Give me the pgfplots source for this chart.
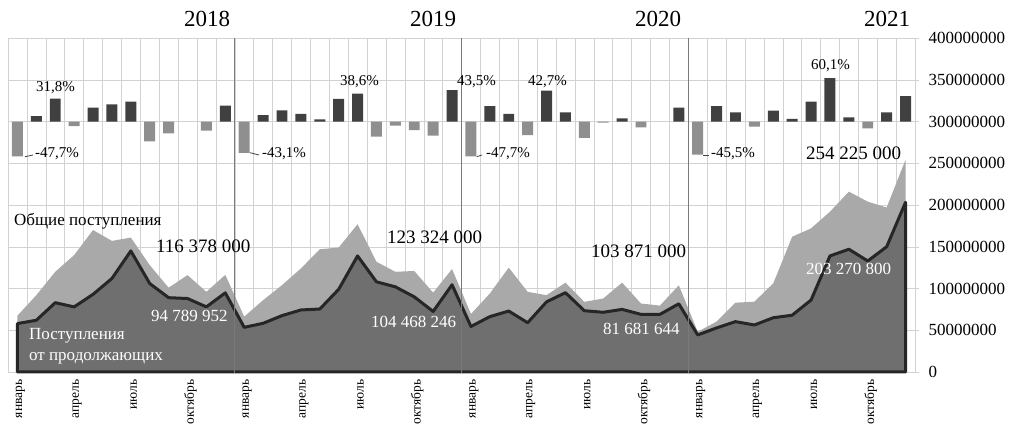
\documentclass[border=0pt]{standalone}
\usepackage{fontspec}
\setmainfont{Liberation Serif}
\usepackage{pgfplots}
\usepackage{pgfplotstable}
\pgfplotsset{compat=1.18}

\definecolor{lightarea}{HTML}{A9A9A9}
\definecolor{darkarea}{HTML}{6F6F6F}
\definecolor{darkline}{HTML}{262626}
\definecolor{posbar}{HTML}{404040}
\definecolor{negbar}{HTML}{8F8F8F}
\definecolor{gridc}{HTML}{D2D2D2}
\definecolor{yearc}{HTML}{7A7A7A}

% monthly values, millions
\pgfplotstableread{
x total cont
0 67.5 58
1 92 62
2 120 83
3 140 78
4 170 93
5 157 112
6 161 145
7 128 106
8 101 89
9 116 88
10 96 78
11 116.378 94.790
12 66.3 53.5
13 86 58.3
14 104 67.5
15 124 74.3
16 147 75.4
17 149 99
18 177 139
19 132 108
20 120 102
21 121 90
22 95 72.5
23 123.324 104.468
24 69.5 54.5
25 94 66.3
26 125 73
27 96 59
28 92 84
29 107 95
30 84 73.4
31 88 71.5
32 107 75
33 82 69
34 79.5 69
35 103.871 81.682
36 48.3 44.4
37 60.3 52.8
38 83 60.3
39 84.2 56.3
40 106.2 65
41 162 68
42 172 86.2
43 192 139
44 216 147
45 204 133
46 197 150
47 254.225 203.271
}\monthly

\pgfplotstableread{
x p
1 7.8
2 31.8
4 19.3
5 23.9
6 27.6
11 22.1
13 9.2
14 15.6
15 10.6
16 3.2
17 31.3
18 38.6
23 43.5
25 21.6
26 10.6
28 42.7
29 12.9
32 4.6
35 19.3
37 21.6
38 12.9
40 15.2
41 3.7
42 27.6
43 60.1
44 6.0
46 12.9
47 35.4
}\posbars

\pgfplotstableread{
x p
0 -47.7
3 -6.0
7 -27.1
8 -16.1
10 -12.4
12 -43.1
19 -20.7
20 -5.5
21 -11.5
22 -19.3
24 -47.7
27 -18.4
30 -22.5
31 -1.4
33 -7.8
36 -45.5
39 -6.9
45 -9.2
}\negbars

\pgfplotsset{
  base/.style={
    at={(8pt,51pt)}, anchor=south west,
    width=907pt, height=334pt, scale only axis,
    xmin=-0.5, xmax=47.5,
  }
}

\begin{document}
\begin{tikzpicture}[x=1pt,y=1pt]
% main axis: grid under, areas
\begin{axis}[
  base, ymin=0, ymax=400,
  clip=false,
  axis line style={draw=gridc},
  ytick={0,50,...,400},
  yticklabels={0,50000000,100000000,150000000,200000000,250000000,300000000,350000000,400000000},
  yticklabel pos=right,
  ytick pos=right,
  tick align=outside,
  major tick length=4pt,
  ytick style={draw=gridc},
  yticklabel style={font=\fontsize{17}{20}\selectfont, anchor=west, xshift=6pt},
  ymajorgrids,
  major grid style={draw=gridc},
  xtick={0,3,...,45},
  xticklabels={январь,апрель,июль,октябрь,январь,апрель,июль,октябрь,январь,апрель,июль,октябрь,январь,апрель,июль,октябрь},
  xtick style={draw=none},
  xticklabel style={font=\fontsize{13.5}{16}\selectfont, rotate=90, anchor=east, yshift=-3pt},
  minor xtick={-0.5,0.5,...,47.5},
  xminorgrids,
  minor grid style={draw=gridc},
  minor tick length=0pt,
]
\addplot[fill=lightarea, draw=none] table[x=x,y=total]{\monthly} \closedcycle;
\addplot[fill=darkarea, draw=none] table[x=x,y=cont]{\monthly} \closedcycle;
\end{axis}

% overlay: faint grid over the areas, then the outline of the continuing series
\begin{axis}[
  base, ymin=0, ymax=400,
  clip=false,
  axis lines=none,
  ytick={0,50,...,400}, yticklabels={},
  xtick=\empty,
  minor xtick={-0.5,0.5,...,47.5},
  ymajorgrids, xminorgrids,
  major grid style={draw=gridc, opacity=0.35},
  minor grid style={draw=gridc, opacity=0.35},
  tick style={draw=none},
  minor tick length=0pt, major tick length=0pt,
]
\addplot[draw=darkline, line width=3pt, line join=round] table[x=x,y=cont]{\monthly} \closedcycle;
\draw[yearc, line width=0.8pt] (axis cs:11.5,-1) -- (axis cs:11.5,400);
\draw[yearc, line width=0.8pt] (axis cs:23.5,-1) -- (axis cs:23.5,400);
\draw[yearc, line width=0.8pt] (axis cs:35.5,-1) -- (axis cs:35.5,400);
\end{axis}

% bars of monthly change, per cent
\begin{axis}[
  base, ymin=-345.2, ymax=115.4,
  hide axis, ybar, bar width=0.58,
]
\addplot[fill=posbar, draw=none, bar shift=0pt] table[x=x,y=p]{\posbars};
\addplot[fill=negbar, draw=none, bar shift=0pt] table[x=x,y=p]{\negbars};
\end{axis}

% year titles
\begin{scope}[font=\fontsize{23}{27}\selectfont]
\node[anchor=base] at (207,396) {2018};
\node[anchor=base] at (433,396) {2019};
\node[anchor=base] at (658,396) {2020};
\node[anchor=base] at (887,396) {2021};
\end{scope}

% percent labels
\begin{scope}[font=\fontsize{15}{18}\selectfont, inner sep=0pt]
\node[anchor=base west] at (36,331) {31,8\%};
\node[anchor=base west] at (35,265) {-47,7\%};
\node[anchor=base west] at (262,265) {-43,1\%};
\node[anchor=base west] at (340,337) {38,6\%};
\node[anchor=base west] at (457,337) {43,5\%};
\node[anchor=base west] at (528,337) {42,7\%};
\node[anchor=base west] at (486,265) {-47,7\%};
\node[anchor=base west] at (711,265) {-45,5\%};
\node[anchor=base west] at (811,353) {60,1\%};
\end{scope}
\draw[posbar, line width=0.8pt] (25,266.3) -- (33,268);
\draw[posbar, line width=0.8pt] (250,270.3) -- (259,268);
\draw[posbar, line width=0.8pt] (476.7,266.3) -- (482,268);
\draw[posbar, line width=0.8pt] (703,268) -- (709,268);

% value labels
\begin{scope}[font=\fontsize{19}{22}\selectfont, inner sep=0pt]
\node[anchor=base west] at (156,170) {116 378 000};
\node[anchor=base west] at (387,179) {123 324 000};
\node[anchor=base west] at (591,165) {103 871 000};
\node[anchor=base west] at (806,263) {254 225 000};
\end{scope}
\begin{scope}[font=\fontsize{17}{20}\selectfont, inner sep=0pt, text=white]
\node[anchor=base west] at (151,101) {94 789 952};
\node[anchor=base west] at (371,95) {104 468 246};
\node[anchor=base west] at (603,88) {81 681 644};
\node[anchor=base west] at (806,148) {203 270 800};
\node[anchor=base west] at (29,83) {Поступления};
\node[anchor=base west] at (29,63) {от продолжающих};
\end{scope}
\node[anchor=base west, inner sep=0pt, font=\fontsize{17}{20}\selectfont] at (14,197) {Общие поступления};

\pgfresetboundingbox
\path[use as bounding box] (0,0) rectangle (1009,423);
\end{tikzpicture}
\end{document}
